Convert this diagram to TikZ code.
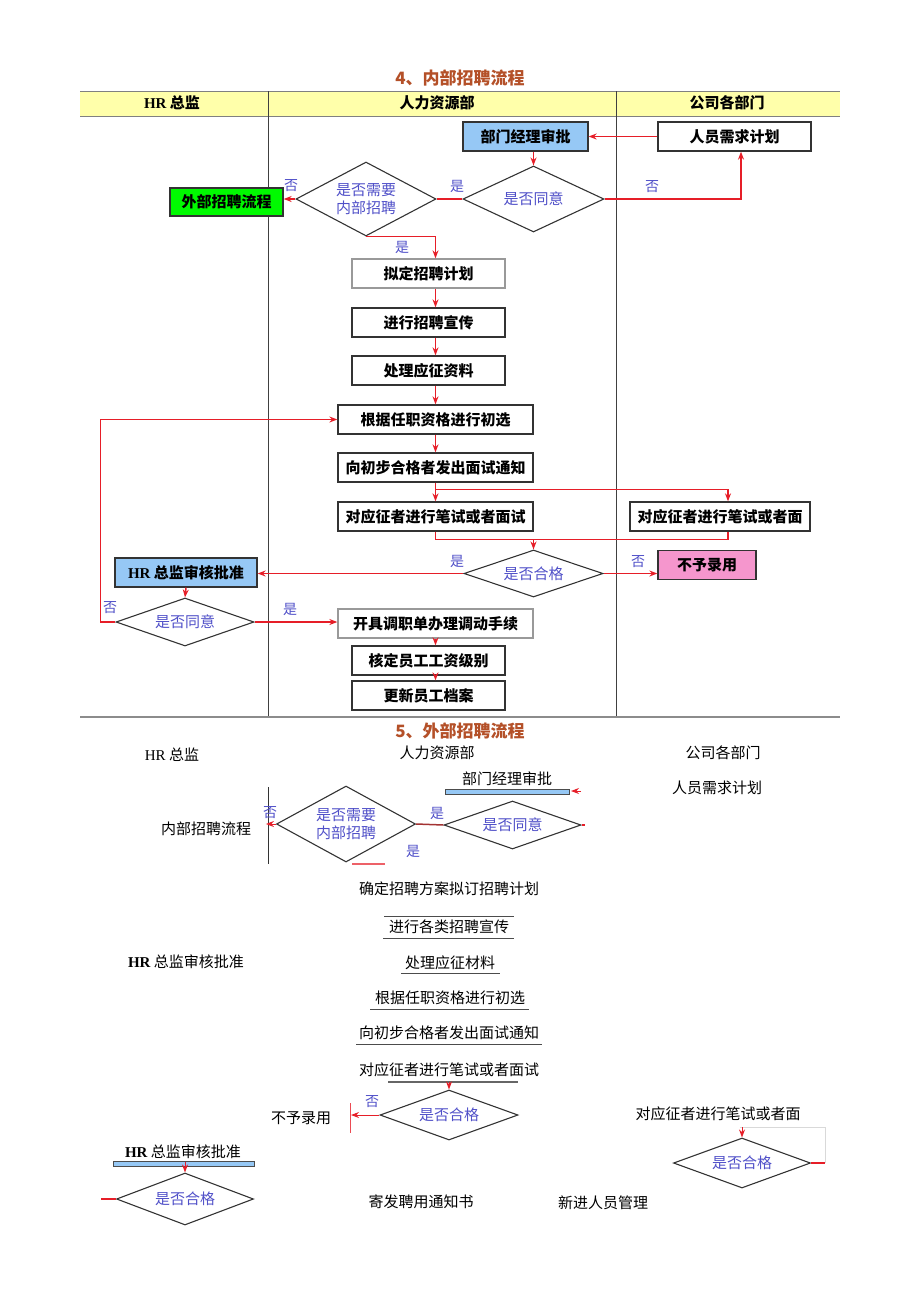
\documentclass[tikz,border=0pt]{standalone}
\usepackage{fontspec}
\setmainfont{Liberation Serif}
\newfontfamily\cjk{Noto Sans CJK SC}
\usetikzlibrary{
    arrows.meta,     % For arrow tips
    shapes.geometric,% For the decision diamonds
    calc,            % For shifted coordinates
    positioning      % For relative placement
}
\definecolor{headyellow}{RGB}{255,255,170}
\definecolor{boxblue}{RGB}{150,200,245}
\definecolor{extgreen}{RGB}{0,250,0}
\definecolor{rejpink}{RGB}{245,150,205}
\definecolor{linered}{RGB}{230,30,40}
\definecolor{txtblue}{RGB}{80,80,200}
\definecolor{titlebrown}{RGB}{180,80,40}

\begin{document}
\begin{tikzpicture}[
    x=1pt, y=-1pt,
    >={Stealth[length=8pt,width=6pt]}, % Set default arrow tip style
    box/.style={draw=black!80, line width=1.3pt, minimum height=29pt, inner sep=0pt,
        font=\cjk\bfseries\fontsize{15}{17}\selectfont},
    paleBox/.style={box, draw=black!40},
    decision/.style={diamond, draw=black!80, line width=1.1pt, inner sep=0pt, aspect=2,
        align=center, text=txtblue, font=\cjk\fontsize{15}{18}\selectfont},
    arr/.style={->, draw=linered, line width=1.5pt},
    wire/.style={draw=linered, line width=1.5pt},
    yesno/.style={text=txtblue, inner sep=0pt, font=\cjk\fontsize{14}{14}\selectfont},
    lanehead/.style={font=\cjk\bfseries\fontsize{15}{17}\selectfont},
    plain/.style={inner sep=0pt, font=\cjk\fontsize{15}{17}\selectfont},
    title/.style={text=titlebrown, font=\cjk\bfseries\fontsize{17}{19}\selectfont},
    rule/.style={draw=black!70, line width=1pt}
]
    \useasboundingbox (0,0) rectangle (920,1301);

    % ---------- 4: internal recruiting ----------
    \node[title] (t4) at (460,78) {4、内部招聘流程};

    % Lane header and lane lines
    \fill[headyellow] (80,91) rectangle (840,116);
    \draw[black!50] (80,91) -- (840,91) (80,116) -- (840,116);
    \draw[black!75] (268,91) -- (268,717) (616,91) -- (616,717);
    \draw[black!45, line width=1.5pt] (80,717) -- (840,717);
    \node[lanehead] (lhr) at (172,103) {{\rmfamily HR} 总监};
    \node[lanehead] (lhrd) at (437,103) {人力资源部};
    \node[lanehead] (ldep) at (727,103) {公司各部门};

    % Boxes
    \node[box, fill=boxblue, minimum width=125pt] (mgr) at (525.5,136.5) {部门经理审批};
    \node[box, minimum width=153pt] (need) at (734.5,136.5) {人员需求计划};
    \node[decision, minimum width=140pt, minimum height=74pt] (askin) at (366,199) {是否需要\\内部招聘};
    \node[decision, minimum width=141pt, minimum height=66pt] (agree) at (533.5,199) {是否同意};
    \node[box, fill=extgreen, minimum width=113pt, minimum height=28pt] (ext) at (226.5,202) {外部招聘流程};
    \node[paleBox, minimum width=153pt] (plan) at (428.5,273.5) {拟定招聘计划};
    \node[box, minimum width=153pt] (promo) at (428.5,322.5) {进行招聘宣传};
    \node[box, minimum width=153pt] (proc) at (428.5,370.5) {处理应征资料};
    \node[box, minimum width=195pt] (screen) at (435.5,419.5) {根据任职资格进行初选};
    \node[box, minimum width=195pt] (notice) at (435.5,467.5) {向初步合格者发出面试通知};
    \node[box, minimum width=195pt] (exam) at (435.5,516.5) {对应征者进行笔试或者面试};
    \node[box, minimum width=180pt] (exam2) at (720,516.5) {对应征者进行笔试或者面};
    \node[decision, minimum width=139pt, minimum height=47pt] (qual) at (533.5,573.5) {是否合格};
    \node[box, fill=rejpink, minimum width=98pt] (reject) at (707,565) {不予录用};
    \node[box, fill=boxblue, minimum width=142pt] (hrok) at (186,572.5) {{\rmfamily HR} 总监审核批准};
    \node[decision, minimum width=138pt, minimum height=48pt] (agree2) at (185,622) {是否同意};
    \node[paleBox, minimum width=195pt] (transfer) at (435.5,623.5) {开具调职单办理调动手续};
    \node[box, minimum width=153pt] (grade) at (428.5,660.5) {核定员工工资级别};
    \node[box, minimum width=153pt] (file) at (428.5,695.5) {更新员工档案};

    % Connectors
    \draw[arr] (need.west) -- (mgr.east);
    \draw[arr] (mgr.south -| agree) -- (agree.north);
    \draw[wire] (agree.west) -- (askin.east);
    \node[yesno] at (457,186) {是};
    \draw[arr] (agree.east) -| ($(need.south)+(6.5,0)$);
    \node[yesno] at (652,187) {否};
    \draw[arr] (askin.west) -- (askin.west -| ext.east);
    \node[yesno] at (291,186) {否};
    \draw[arr] (askin.south) -- (askin.south -| screen) -- (plan.north -| screen);
    \node[yesno] at (402,247) {是};
    \draw[arr] (plan.south -| screen) -- (promo.north -| screen);
    \draw[arr] (promo.south -| screen) -- (proc.north -| screen);
    \draw[arr] (proc.south -| screen) -- (screen.north);
    \draw[arr] (screen.south) -- (notice.north);
    \draw[arr] (notice.south) -- (exam.north);
    \draw[arr] ($(notice.south)+(0,7)$) -| ($(exam2.north)+(8,0)$);
    \draw[wire] (exam.south) |- ($(exam2.south)+(8,8)$) -- ($(exam2.south)+(8,0)$);
    \draw[arr] ($(qual.north |- exam.south)+(0,8)$) -- (qual.north);
    \draw[arr] (qual.west) -- (qual.west -| hrok.east);
    \node[yesno] at (457,561) {是};
    \draw[arr] (qual.east) -- (qual.east -| reject.west);
    \node[yesno] at (638,562) {否};
    \draw[arr] (hrok.south) -- (agree2.north);
    \draw[arr] (agree2.west) -- ++(-15,0) |- (screen.west);
    \node[yesno] at (110,608) {否};
    \draw[arr] (agree2.east) -- (agree2.east -| transfer.west);
    \node[yesno] at (290,609) {是};
    \draw[arr] (transfer.south) -- (grade.north -| transfer);
    \draw[arr] (grade.south -| transfer) -- (file.north -| transfer);

    % ---------- 5: external recruiting ----------
    \node[title] (t5) at (460,731) {5、外部招聘流程};
    \node[plain] (bhr) at (172,755) {{\rmfamily HR} 总监};
    \node[plain] (bhrd) at (437,753) {人力资源部};
    \node[plain] (bdep) at (723,753) {公司各部门};

    \node[plain] (bmgr) at (507,779) {部门经理审批};
    \draw[draw=black!70, fill=boxblue] (445,789) rectangle (569,794);
    \draw[arr, line width=1pt] (581,791) -- (571,791);
    \node[plain] (bneed) at (717,788) {人员需求计划};
    \draw[black!80] (268,787) -- (268,864);
    \node[plain] (bext) at (206,829) {内部招聘流程};

    \node[decision, minimum width=139pt, minimum height=76pt] (baskin) at (346,824) {是否需要\\内部招聘};
    \node[decision, minimum width=137pt, minimum height=48pt] (bagree) at (512.5,825) {是否同意};
    \draw[arr, line width=1pt] (baskin.west) -- ++(-10,0);
    \node[yesno] at (270,813) {否};
    \draw[wire, draw=red!55!black!80] (baskin.east) -- (bagree.west);
    \node[yesno] at (437,813) {是};
    \draw[wire] (bagree.east) -- ++(3,0);
    \node[yesno] at (413,851) {是};
    \draw[draw=linered!70, line width=2.5pt] (352,864) -- (385,864);

    \node[plain] (bplan) at (449,889) {确定招聘方案拟订招聘计划};
    \node[plain] (bpromo) at (449,927) {进行各类招聘宣传};
    \draw[rule] (384,916) -- (514,916) (383,938) -- (514,938);
    \node[plain] (bhrok) at (186,962) {{\rmfamily\bfseries HR} 总监审核批准};
    \node[plain] (bproc) at (450,963) {处理应征材料};
    \draw[rule] (401,973) -- (500,973);
    \node[plain] (bscreen) at (450,998) {根据任职资格进行初选};
    \draw[rule] (370,1009) -- (529,1009);
    \node[plain] (bnotice) at (449,1033) {向初步合格者发出面试通知};
    \draw[rule] (356,1044) -- (542,1044);
    \node[plain] (bexam) at (449,1070) {对应征者进行笔试或者面试};
    \draw[draw=black!60, line width=2pt] (388,1082) -- (518,1082);

    \node[decision, minimum width=138pt, minimum height=50pt] (bqual) at (449,1115) {是否合格};
    \draw[arr, line width=1pt] (bqual.north |- 0,1082) -- (bqual.north);
    \draw[arr, line width=1pt] (bqual.west) -- (351,1115);
    \draw[draw=linered!80, line width=1pt] (350,1103) -- (350,1133);
    \node[yesno] at (372,1102) {否};
    \node[plain] (breject) at (301,1118) {不予录用};

    \node[plain] (bexam2) at (718,1114) {对应征者进行笔试或者面};
    \draw[black!15] (740,1127) -- (825,1127) -- (825,1163);
    \node[decision, minimum width=137pt, minimum height=50pt] (bqual2) at (742,1163) {是否合格};
    \draw[arr, line width=1pt] (bqual2.north |- 0,1127) -- (bqual2.north);
    \draw[wire] (bqual2.east) -- (825,1163);

    \node[plain] (bhrok2) at (183,1152) {{\rmfamily\bfseries HR} 总监审核批准};
    \draw[draw=black!70, fill=boxblue] (113,1161) rectangle (254,1166);
    \node[decision, minimum width=137pt, minimum height=52pt] (bagree2) at (185,1199) {是否合格};
    \draw[arr, line width=1pt] (bagree2.north |- 0,1162) -- (bagree2.north);
    \draw[wire] (101,1199) -- (bagree2.west);

    \node[plain] (bsend) at (421,1202) {寄发聘用通知书};
    \node[plain] (bnew) at (603,1203) {新进人员管理};

\end{tikzpicture}
\end{document}
